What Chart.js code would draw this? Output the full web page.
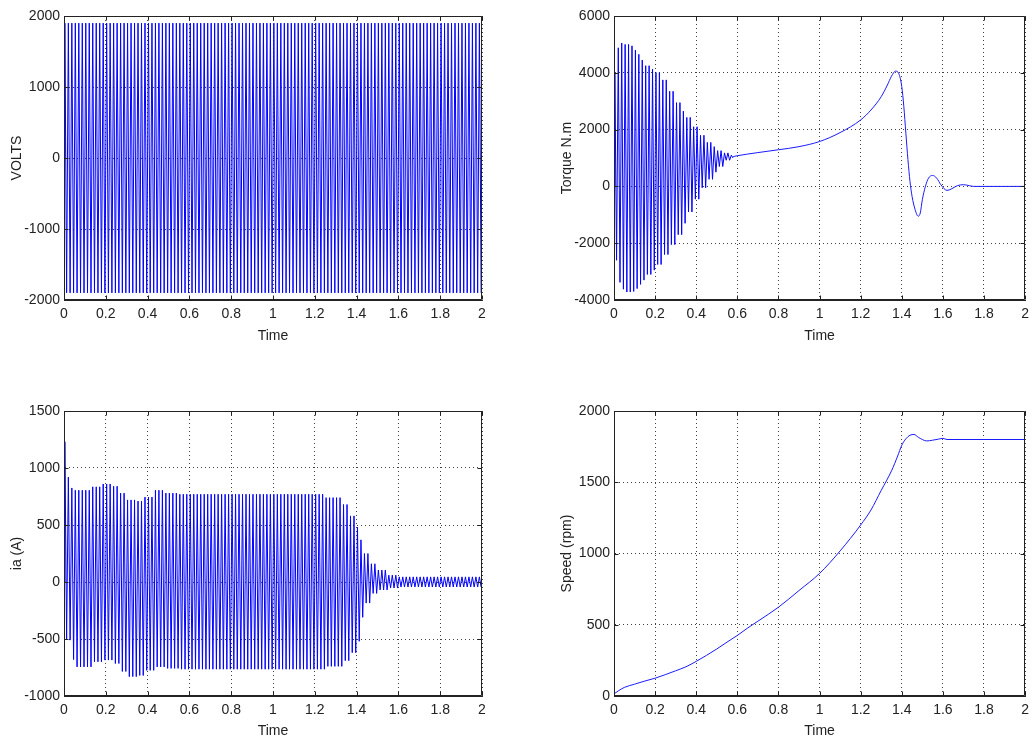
<!DOCTYPE html>
<html>
<head>
<meta charset="utf-8">
<script src="https://cdn.jsdelivr.net/npm/chart.js@4.4.1/dist/chart.umd.min.js"></script>
<style>
  body { margin: 0; background: #fff; }
  canvas { position: absolute; }
</style>
</head>
<body>
<canvas id="volts" width="500" height="345" style="left:0;top:0"></canvas>
<canvas id="torque" width="485" height="345" style="left:550px;top:0"></canvas>
<canvas id="current" width="500" height="350" style="left:0;top:390px"></canvas>
<canvas id="speed" width="485" height="350" style="left:550px;top:390px"></canvas>
<script>
// supply frequency (cycles counted off the plots)
const supplyHz = 60;

// voltage: envelope of the peaks
const voltEnvTime = [0];
const voltUpper = [1900];
const voltLower = [-1900];

// stator current ia: envelope of the peaks
const curEnvTime = [0, 0.015, 0.03, 0.05, 0.12, 0.17, 0.22, 0.26, 0.3, 0.34, 0.38, 0.42, 0.47, 0.55, 1.25, 1.32, 1.36, 1.39, 1.41, 1.43, 1.46, 1.5, 1.55, 1.6];
const curUpper = [1230, 920, 825, 805, 835, 860, 840, 780, 720, 710, 745, 805, 780, 770, 740, 680, 580, 480, 370, 250, 160, 105, 60, 45];
const curLower = [-500, -510, -680, -745, -700, -685, -715, -785, -830, -820, -775, -745, -758, -765, -740, -690, -620, -520, -310, -185, -100, -70, -53, -44];

// torque: oscillating start (envelope) then smooth part
const torqueEnvTime = [0, 0.015, 0.03, 0.05, 0.07, 0.09, 0.11, 0.13, 0.15, 0.17, 0.2, 0.23, 0.26, 0.29, 0.32, 0.35, 0.38, 0.41, 0.44, 0.47, 0.5, 0.53, 0.56];
const torqueUpper = [4000, 4880, 5050, 5000, 4950, 4800, 4650, 4450, 4250, 4130, 4010, 3750, 3350, 2950, 2650, 2430, 2100, 1800, 1550, 1400, 1260, 1180, 1100];
const torqueLower = [-2600, -3380, -3620, -3720, -3700, -3600, -3450, -3300, -3100, -2950, -2750, -2400, -2050, -1700, -1300, -900, -450, -50, 250, 500, 700, 920, 1000];
const torqueTime = [0.58, 0.6, 0.7, 0.8, 0.9, 1.0, 1.1, 1.2, 1.25, 1.3, 1.33, 1.35, 1.37, 1.385, 1.4, 1.41, 1.42, 1.43, 1.44, 1.45, 1.465, 1.48, 1.49, 1.5, 1.515, 1.53, 1.55, 1.57, 1.59, 1.62, 1.64, 1.67, 1.7, 1.73, 1.75, 2.0];
const torqueValue = [1050, 1080, 1190, 1290, 1400, 1580, 1895, 2340, 2690, 3160, 3570, 3880, 4060, 3980, 3510, 2810, 1870, 940, 175, -350, -820, -1050, -935, -470, 0, 290, 385, 290, 60, -140, -95, 25, 60, 25, 0, 0];

// speed
const speedTime = [0, 0.02, 0.05, 0.1, 0.15, 0.2, 0.25, 0.3, 0.35, 0.4, 0.45, 0.5, 0.55, 0.6, 0.65, 0.7, 0.8, 0.9, 1.0, 1.1, 1.2, 1.25, 1.3, 1.35, 1.38, 1.4, 1.42, 1.44, 1.46, 1.48, 1.5, 1.52, 1.55, 1.58, 1.6, 1.62, 2.0];
const speedValue = [15, 35, 60, 83, 105, 125, 150, 177, 205, 243, 285, 330, 378, 425, 477, 525, 623, 740, 860, 1018, 1200, 1305, 1443, 1580, 1684, 1760, 1805, 1830, 1835, 1816, 1800, 1790, 1795, 1803, 1808, 1800, 1800];

const timeTicks = ['0', '0.2', '0.4', '0.6', '0.8', '1', '1.2', '1.4', '1.6', '1.8', '2'];

const FONT = '"Liberation Sans Narrow", "Arial Narrow", "Liberation Sans", Arial, sans-serif';
const BLUE = '#0000ff';

// one upper and one lower peak per supply cycle, taken from the envelope step it falls in
function peaks(envTime, upper, lower, tEnd) {
  const pts = [{x: 0, y: 0}];
  for (let c = 0; c / supplyHz < tEnd - 1e-9; c++) {
    const t = c / supplyHz;
    let k = 0;
    while (k + 1 < envTime.length && envTime[k + 1] <= t) k++;
    pts.push({x: t + 0.25 / supplyHz, y: upper[k]});
    pts.push({x: t + 0.75 / supplyHz, y: lower[k]});
  }
  return pts;
}

const matlabBox = {
  id: 'matlabBox',
  afterDraw(chart) {
    const {ctx, chartArea: a, scales: {x, y}} = chart;
    const l = Math.round(a.left) + 0.5, r = Math.round(a.right) - 0.5;
    const t = Math.round(a.top) + 0.5, b = Math.round(a.bottom) - 0.5;
    ctx.save();
    ctx.strokeStyle = '#222';
    ctx.lineWidth = 1;
    ctx.beginPath();
    x.ticks.forEach(tk => {
      const px = Math.round(x.getPixelForValue(tk.value)) + 0.5;
      ctx.moveTo(px, b); ctx.lineTo(px, b - 4);
      ctx.moveTo(px, t); ctx.lineTo(px, t + 4);
    });
    y.ticks.forEach(tk => {
      const py = Math.round(y.getPixelForValue(tk.value)) + 0.5;
      ctx.moveTo(l, py); ctx.lineTo(l + 4, py);
      ctx.moveTo(r, py); ctx.lineTo(r - 4, py);
    });
    ctx.rect(l, t, r - l, b - t);
    ctx.stroke();
    ctx.restore();
  }
};

function makeChart(id, datasets, yTitle, yMin, yMax, yStep, pad) {
  new Chart(document.getElementById(id), {
    type: 'line',
    data: { datasets },
    plugins: [matlabBox],
    options: {
      responsive: false,
      animation: false,
      layout: { padding: pad },
      plugins: { legend: { display: false }, tooltip: { enabled: false } },
      elements: { point: { radius: 0 }, line: { borderWidth: 1 } },
      scales: {
        x: {
          type: 'linear', min: 0, max: 2, z: 1,
          afterFit: s => { s.height = pad.bottomAxis; },
          grid: { color: 'rgba(0,0,0,0.75)', lineWidth: 1, drawTicks: false },
          border: { display: true, color: '#222', dash: [1, 3] },
          ticks: {
            stepSize: 0.2, autoSkip: false, maxRotation: 0, padding: 6,
            color: '#222', font: { family: FONT, size: 14 },
            callback: (v, i) => timeTicks[i]
          },
          title: { display: true, text: 'Time', color: '#222', padding: { top: 0, bottom: 0 }, font: { family: FONT, size: 14 } }
        },
        y: {
          min: yMin, max: yMax, z: 1,
          afterFit: s => { s.width = 64; },
          grid: { color: 'rgba(0,0,0,0.75)', lineWidth: 1, drawTicks: false },
          border: { display: true, color: '#222', dash: [1, 3] },
          ticks: {
            stepSize: yStep, padding: 4, color: '#222',
            font: { family: FONT, size: 14 },
            callback: v => String(v)
          },
          title: { display: true, text: yTitle, color: '#222', padding: { top: 9, bottom: 0 }, font: { family: FONT, size: 14 } }
        }
      }
    }
  });
}

makeChart('volts', [
  { data: peaks(voltEnvTime, voltUpper, voltLower, 2), borderColor: BLUE, tension: 0 }
], 'VOLTS', -2000, 2000, 1000, { top: 16, right: 18, left: 0, bottom: 0, bottomAxis: 45 });

makeChart('torque', [
  { data: peaks(torqueEnvTime, torqueUpper, torqueLower, 0.58), borderColor: BLUE, tension: 0 },
  { data: torqueTime.map((t, i) => ({x: t, y: torqueValue[i]})), borderColor: '#1a1aff', cubicInterpolationMode: 'monotone' }
], 'Torque N.m', -4000, 6000, 2000, { top: 16, right: 3, left: 0, bottom: 0, bottomAxis: 45 });

makeChart('current', [
  { data: peaks(curEnvTime, curUpper, curLower, 2), borderColor: BLUE, tension: 0 }
], 'ia (A)', -1000, 1500, 500, { top: 21, right: 18, left: 0, bottom: 0, bottomAxis: 44 });

makeChart('speed', [
  { data: speedTime.map((t, i) => ({x: t, y: speedValue[i]})), borderColor: '#1a1aff', cubicInterpolationMode: 'monotone' }
], 'Speed (rpm)', 0, 2000, 500, { top: 21, right: 3, left: 0, bottom: 0, bottomAxis: 44 });
</script>
</body>
</html>
